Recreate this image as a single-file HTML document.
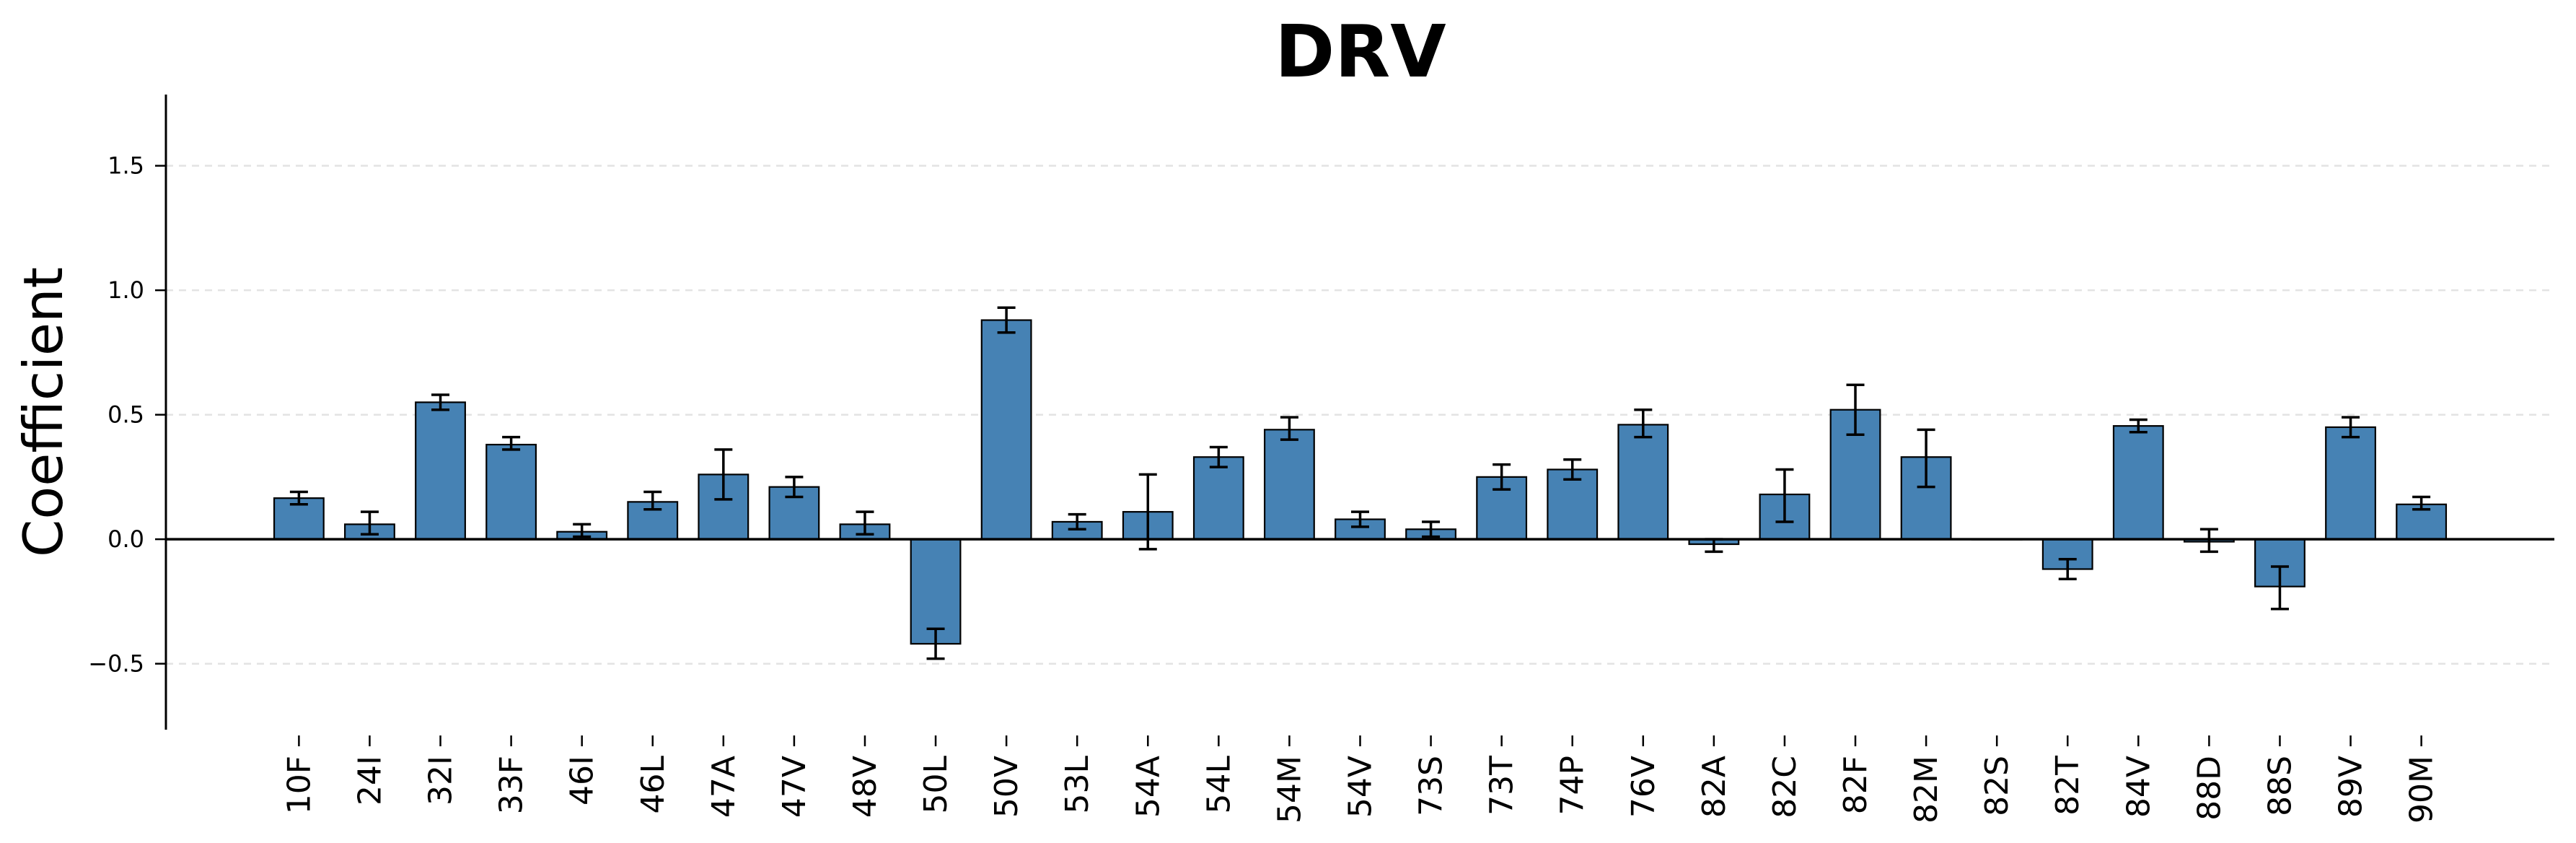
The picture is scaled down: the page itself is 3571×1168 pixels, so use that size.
<!DOCTYPE html>
<html><head><meta charset="utf-8"><style>
html,body{margin:0;padding:0;background:#fff;}
svg{display:block;font-family:"DejaVu Sans","Liberation Sans",sans-serif;}
</style></head><body>
<svg id="chart" width="3571" height="1168" viewBox="0 0 3571 1168" xmlns="http://www.w3.org/2000/svg">
<text x="1886" y="106" text-anchor="middle" font-size="100" font-weight="bold">DRV</text>
<text transform="translate(86,571) rotate(-90)" text-anchor="middle" font-size="75">Coefficient</text>
<g id="grid"></g><g id="bars"></g><g id="errs"></g><g id="axes"></g>
</svg>
<script>
const categories=["10F","24I","32I","33F","46I","46L","47A","47V","48V","50L","50V","53L","54A","54L","54M","54V","73S","73T","74P","76V","82A","82C","82F","82M","82S","82T","84V","88D","88S","89V","90M"];
const values=[0.165,0.06,0.55,0.38,0.03,0.15,0.26,0.21,0.06,-0.42,0.88,0.07,0.11,0.33,0.44,0.08,0.04,0.25,0.28,0.46,-0.02,0.18,0.52,0.33,0.0,-0.12,0.455,-0.01,-0.19,0.45,0.14];
const errLow=[0.14,0.02,0.52,0.36,0.01,0.12,0.16,0.17,0.02,-0.48,0.83,0.04,-0.04,0.29,0.40,0.05,0.01,0.20,0.24,0.41,-0.05,0.07,0.42,0.21,0.0,-0.16,0.43,-0.05,-0.28,0.41,0.12];
const errHigh=[0.19,0.11,0.58,0.41,0.06,0.19,0.36,0.25,0.11,-0.36,0.93,0.10,0.26,0.37,0.49,0.11,0.07,0.30,0.32,0.52,0.00,0.28,0.62,0.44,0.0,-0.08,0.48,0.04,-0.11,0.49,0.17];
const yTicks=[-0.5,0,0.5,1.0,1.5];
const yTickLabels=["\u22120.5","0.0","0.5","1.0","1.5"];
</script>
<script>
const NS="http://www.w3.org/2000/svg";
const L=230,R=3541,T=131,B=1011;
const yMin=-0.765,yMax=1.786;
const xMin=-1.88,xMax=categories.length-1+1.88;
const X=i=>L+(i-xMin)/(xMax-xMin)*(R-L);
const Y=v=>B-(v-yMin)/(yMax-yMin)*(B-T);
const bw=(X(1)-X(0))*0.7;
function mk(tag,attrs,parent){const e=document.createElementNS(NS,tag);for(const k in attrs)e.setAttribute(k,attrs[k]);document.getElementById(parent).appendChild(e);return e;}
yTicks.forEach((t,i)=>{
  if(t!==0){const g=mk('line',{x1:L,x2:R,y1:Y(t),y2:Y(t),stroke:'#e3e3e3','stroke-width':2.5,'stroke-dasharray':'10,8'},'grid');
  
  }
  const tk=mk('line',{x1:L-15,x2:L,y1:Y(t),y2:Y(t),stroke:'#000','stroke-width':2.5},'axes');
  
  
  const tl=mk('text',{x:L-30,y:Y(t)+11,'text-anchor':'end','font-size':32},'axes');
  tl.textContent=yTickLabels[i];
  
  
});
categories.forEach((c,i)=>{
  const v=values[i];
  const b=mk('rect',{x:X(i)-bw/2,y:Math.min(Y(v),Y(0)),width:bw,height:Math.max(Math.abs(Y(v)-Y(0)),0.5),fill:'#4682b4',stroke:'#000','stroke-width':2.2},'bars');
  
  
  if(errHigh[i]!==errLow[i]){
    const e=mk('path',{d:`M${X(i)},${Y(errLow[i])}V${Y(errHigh[i])}M${X(i)-12.5},${Y(errLow[i])}h25M${X(i)-12.5},${Y(errHigh[i])}h25`,stroke:'#000','stroke-width':3.5,fill:'none'},'errs');
    
    
  }
  const tk=mk('line',{x1:X(i),x2:X(i),y1:B+8,y2:B+23,stroke:'#000','stroke-width':2.5},'axes');
  
  
  const tl=mk('text',{transform:`translate(${X(i)+15},${B+36}) rotate(-90)`,'text-anchor':'end','font-size':44},'axes');
  tl.textContent=c;
  
  
});
const z=mk('line',{x1:L,x2:R,y1:Y(0),y2:Y(0),stroke:'#000','stroke-width':3.5},'axes');


const ya=mk('line',{x1:L,x2:L,y1:T,y2:B,stroke:'#000','stroke-width':3},'axes');


</script>
</body></html>
